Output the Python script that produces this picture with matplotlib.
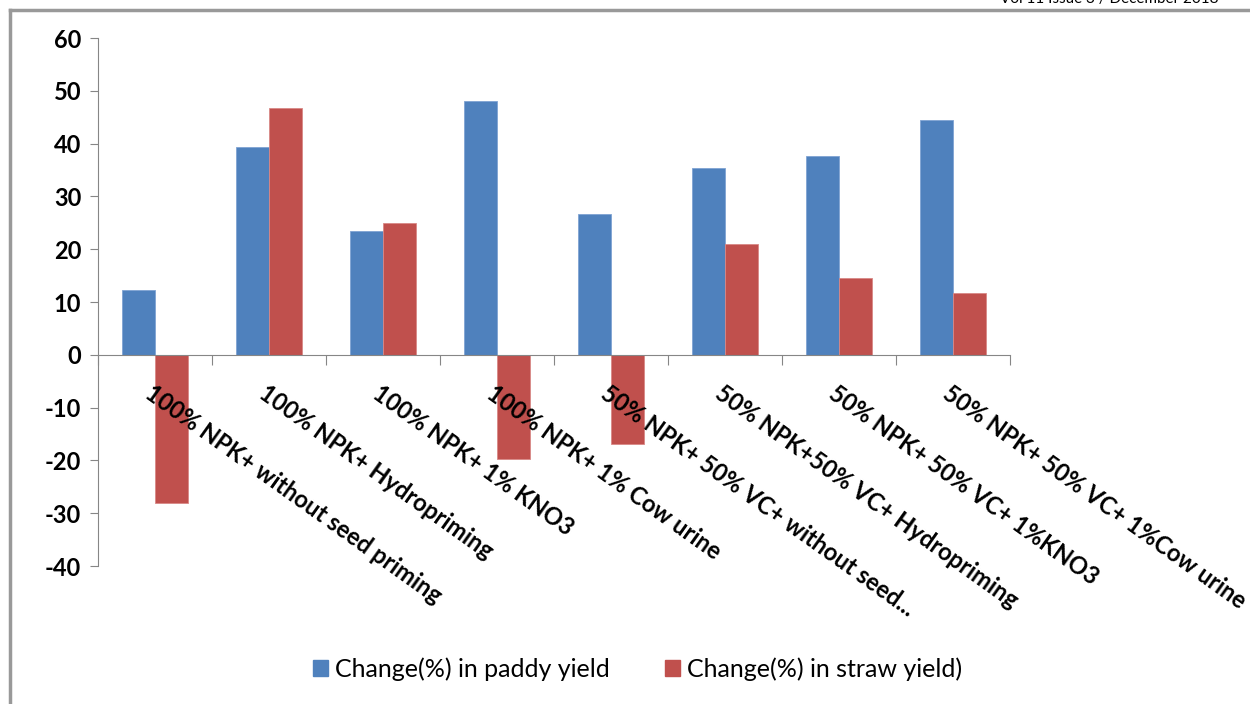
import matplotlib
matplotlib.use("Agg")

import matplotlib.pyplot as plt
import numpy as np
from matplotlib.patches import Patch

plt.rcParams["font.family"] = ["Lato", "DejaVu Sans"]

CATEGORIES = [
    "100% NPK+ without seed priming",
    "100% NPK+ Hydropriming",
    "100% NPK+ 1% KNO3",
    "100% NPK+ 1% Cow urine",
    "50% NPK+ 50% VC+ without seed...",
    "50% NPK+50% VC+ Hydropriming",
    "50% NPK+ 50% VC+ 1%KNO3",
    "50% NPK+ 50% VC+ 1%Cow urine",
]
PADDY = [12.2, 39.3, 23.5, 48.1, 26.7, 35.4, 37.6, 44.5]
STRAW = [-28.1, 46.8, 25.0, -19.8, -16.9, 21.0, 14.5, 11.8]
SERIES_NAMES = ["Change(%) in paddy yield", "Change(%) in straw yield)"]
Y_TICKS = list(range(-40, 61, 10))

BLUE = "#4F81BD"
RED = "#C0504D"
AXIS_GREY = "#868686"

fig = plt.figure(figsize=(12.5, 7.04), dpi=100)
ax = fig.add_axes([0.0784, 0.196, 0.7296, 0.75])

n = len(CATEGORIES)
centers = np.arange(n) + 0.5
width = 1 / 3.5
ax.bar(centers - width / 2, PADDY, width, color=BLUE, edgecolor="#7FA3D3", linewidth=0.6)
ax.bar(centers + width / 2, STRAW, width, color=RED, edgecolor="#D98886", linewidth=0.6)

ax.set_xlim(0, n)
ax.set_ylim(-40, 60)
ax.set_yticks(Y_TICKS)
ax.set_yticklabels([str(v) for v in Y_TICKS], fontsize=17, fontweight="bold")
ax.set_xticks(np.arange(n + 1))
ax.set_xticklabels([])

for side in ("top", "right"):
    ax.spines[side].set_visible(False)
ax.spines["left"].set_color(AXIS_GREY)
ax.spines["bottom"].set_color(AXIS_GREY)
ax.spines["bottom"].set_position(("data", 0))
ax.tick_params(axis="y", length=6, color=AXIS_GREY, pad=6)
ax.tick_params(axis="x", length=7, color=AXIS_GREY)

for c, label in zip(centers, CATEGORIES):
    ax.text(c - 0.01, -5.0, label, rotation=-35.5, rotation_mode="anchor",
            ha="left", va="top", fontsize=17, fontweight="bold", clip_on=False)

handles = [Patch(color=BLUE), Patch(color=RED)]
fig.legend(handles, SERIES_NAMES, loc="center", bbox_to_anchor=(0.51, 0.05),
           ncol=2, frameon=False, fontsize=18, handlelength=0.6,
           handleheight=0.6, handletextpad=0.3, columnspacing=2.2)

# page frame and clipped running header
fig.add_artist(plt.Line2D([0.008, 0.008], [0, 0.986], transform=fig.transFigure,
                          color="#999999", lw=2.5))
fig.add_artist(plt.Line2D([0.008, 1], [0.986, 0.986], transform=fig.transFigure,
                          color="#999999", lw=2.5))
fig.text(0.975, 1.002, "Vol 11 Issue 3 / December 2018", ha="right", va="center",
         fontsize=11)

fig.savefig("out.png", dpi=100)
